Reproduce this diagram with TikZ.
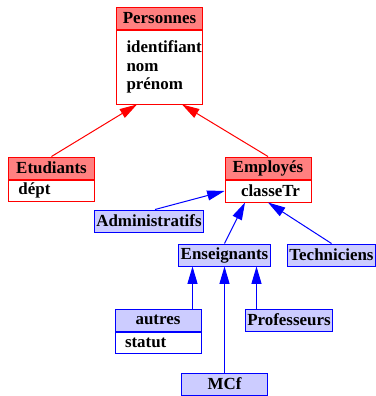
\documentclass[tikz,border=0pt]{standalone}
\usepackage{fontspec}
\setmainfont{Liberation Serif}
\usetikzlibrary{arrows.meta}
\definecolor{cls}{HTML}{FF0000}
\definecolor{clsbg}{HTML}{FF8080}
\definecolor{sub}{HTML}{0000FF}
\definecolor{subbg}{HTML}{CCCCFF}
\tikzset{sc/.style={x=.75pt,y=-.75pt,line width=.75pt,font=\fontsize{12.7}{13.9}\selectfont\bfseries},
  hd/.style={draw=#1,fill=#1bg,minimum width=64.5pt,minimum height=16.5pt,inner xsep=1.5pt,inner ysep=0pt},
  bd/.style={draw=#1,fill=white,anchor=north,align=left,text width=49.5pt,inner xsep=7.5pt,inner ysep=0pt,minimum height=16pt},
  isa/.style={draw=#1,-{Triangle[length=13pt,width=7.5pt]}}}

\begin{document}
\begin{tikzpicture}[sc]
  \useasboundingbox (0,0) rectangle (375,396);
  % classes du haut
  \node[hd=cls] (pers) at (159.5,18){Personnes};
  \node[bd=cls,minimum height=55.5pt] (persB) at (pers.south){identifiant\\nom\\prénom};
  \node[hd=cls] (etu) at (51.5,168){Etudiants};\node[bd=cls] (etuB) at (etu.south){dépt};
  \node[hd=cls] (emp) at (268,168){Employés};
  \node[bd=cls,inner xsep=12pt,text width=40.5pt,minimum height=16.5pt] (empB) at (emp.south){classeTr};
  % sous-classes
  \node[hd=sub] (adm) at (149,221){Administratifs};
  \node[hd=sub] (ens) at (224.5,255){Enseignants};\node[hd=sub] (tec) at (331.5,255){Techniciens};
  \node[hd=sub] (aut) at (158,320){autres};\node[bd=sub] (autB) at (aut.south){statut};
  \node[hd=sub] (pro) at (289,320){Professeurs};
  \node[hd=sub] (mcf) at (224.5,384){MCf};
  % heritage
  \draw[isa=cls] (etu.north)--([xshift=-16.9pt]persB.south);
  \draw[isa=cls] (emp.north)--([xshift=16.9pt]persB.south);
  \draw[isa=sub] ([xshift=4.5pt]adm.north)--(empB.west);
  \draw[isa=sub] (ens.north)--([xshift=-17.25pt]empB.south);
  \draw[isa=sub] (tec.north)--(empB.south);
  \coordinate (ensL) at ([xshift=-24pt]ens.south);\coordinate (ensR) at ([xshift=24pt]ens.south);
  \draw[isa=sub] (aut.north -| ensL)--(ensL);
  \draw[isa=sub] (mcf.north)--(ens.south);
  \draw[isa=sub] (pro.north -| ensR)--(ensR);
\end{tikzpicture}
\end{document}
